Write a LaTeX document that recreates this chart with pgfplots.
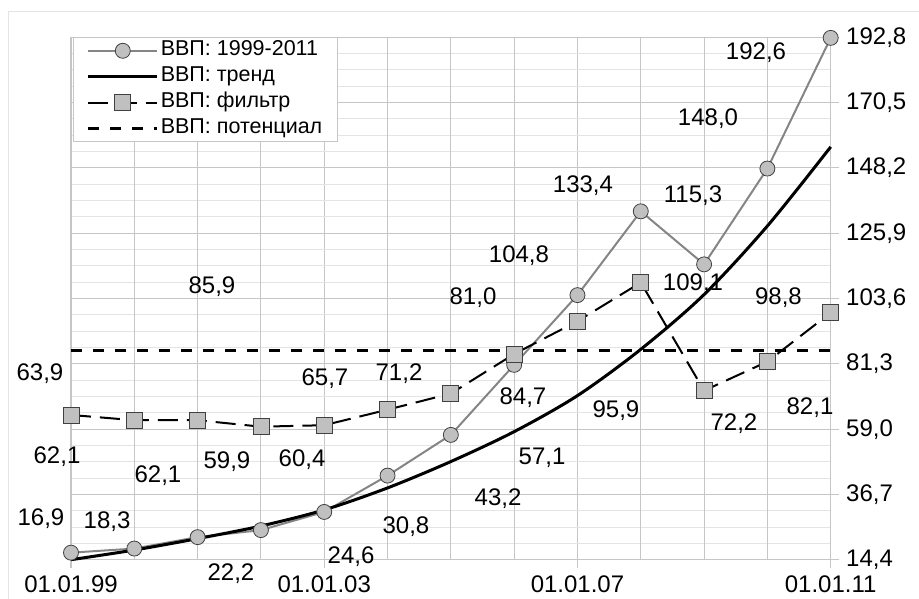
\documentclass[border=0pt]{standalone}
\usepackage{pgfplots}
\pgfplotsset{compat=1.18}
\usepackage{fontspec}
\setmainfont{Liberation Sans}
\definecolor{gridmaj}{HTML}{C6C6C6}
\definecolor{gridmin}{HTML}{E4E4E4}
\definecolor{mfill}{HTML}{C0C0C0}
\definecolor{sline}{HTML}{858585}

\pgfplotstableread{
x  gdp    trend  filt
0  16.9   14.5   63.9
1  18.3   17.8   62.1
2  22.2   21.7   62.1
3  24.6   26.0   59.9
4  30.8   31.5   60.4
5  43.2   39.0   65.7
6  57.1   48.0   71.2
7  81.0   58.2   84.7
8  104.8  70.5   95.9
9  133.4  86.3   109.1
10 115.3  105.0  72.2
11 148.0  128.4  82.1
12 192.6  155.4  98.8
}\gdp

\begin{document}
\begin{tikzpicture}[x=1pt,y=1pt,font=\fontsize{24}{28}\selectfont]
\useasboundingbox (0,0) rectangle (919,599);
\draw[gridmin, line width=1pt] (8,0) -- (8,587) -- (919,587);
\begin{axis}[
  at={(71pt,39pt)}, anchor=south west,
  scale only axis, width=759.7pt, height=522.7pt,
  xmin=0, xmax=12, ymin=14.4, ymax=192.8,
  clip=false,
  xtick={0,4,8,12},
  xticklabels={01.01.99,01.01.03,01.01.07,01.01.11},
  extra x ticks={1,2,3,5,6,7,9,10,11},
  extra x tick labels={},
  extra x tick style={major tick length=0pt},
  ytick={14.4,36.7,59.0,81.3,103.6,125.9,148.2,170.5,192.8},
  minor y tick num=3,
  xtick pos=lower, ytick pos=upper,
  yticklabel pos=right,
  tick align=outside,
  major tick length=8pt, minor tick length=0pt,
  tick style={gridmaj, line width=1pt},
  axis line style={gridmaj, line width=1pt},
  grid=both,
  major grid style={gridmaj, line width=1pt},
  minor grid style={gridmin, line width=1pt},
  y tick label style={xshift=4pt, /pgf/number format/.cd, fixed, fixed zerofill,
    precision=1, use comma, assume math mode=true},
  x tick label style={yshift=-4pt},
  legend style={at={(0.003,1)}, anchor=north west, draw=gridmaj,
    line width=1pt, fill=white, inner xsep=13pt, inner ysep=1pt,
    font=\fontsize{21.5}{25}\selectfont,
    nodes={inner sep=2pt, text height=15pt, text depth=5pt},
    row sep=2pt, cells={anchor=west}},
  legend image code/.code={\draw[mark repeat=2,mark phase=2,#1]
    plot coordinates {(0pt,0pt)(34.5pt,0pt)(69pt,0pt)};},
]
\addplot[sline, line width=2pt, mark=*, mark size=7.5pt,
  mark options={fill=mfill, draw=black!75, line width=0.8pt}]
  table[x=x, y=gdp] {\gdp};
\addlegendentry{ВВП: 1999-2011}
\addplot[black, line width=3pt, smooth] table[x=x, y=trend] {\gdp};
\addlegendentry{ВВП: тренд}
\addplot[black, line width=2pt, dash pattern=on 20pt off 9pt,
  mark=square*, mark size=8pt,
  mark options={solid, fill=mfill, draw=black!75, line width=0.8pt}]
  table[x=x, y=filt] {\gdp};
\addlegendentry{ВВП: фильтр}
\addplot[black, line width=3pt, dash pattern=on 11pt off 11pt]
  coordinates {(0,85.9) (12,85.9)};
\addlegendentry{ВВП: потенциал}

\node at (axis cs:2.227,107.6) {85,9};
\node at (axis cs:-0.490,77.9) {63,9};
\node at (axis cs:-0.221,49.6) {62,1};
\node at (axis cs:1.374,43.1) {62,1};
\node at (axis cs:2.464,47.8) {59,9};
\node at (axis cs:3.649,48.5) {60,4};
\node at (axis cs:4.012,76.2) {65,7};
\node at (axis cs:5.181,77.9) {71,2};
\node at (axis cs:-0.474,28.4) {16,9};
\node at (axis cs:0.569,27.4) {18,3};
\node at (axis cs:2.527,9.6) {22,2};
\node at (axis cs:4.423,15.4) {24,6};
\node at (axis cs:5.291,25.7) {30,8};
\node at (axis cs:6.745,35.2) {43,2};
\node at (axis cs:7.440,49.2) {57,1};
\node at (axis cs:7.139,69.7) {84,7};
\node at (axis cs:8.608,65.3) {95,9};
\node at (axis cs:10.472,60.8) {72,2};
\node at (axis cs:11.673,66.3) {82,1};
\node at (axis cs:6.350,103.8) {81,0};
\node at (axis cs:7.076,118.2) {104,8};
\node at (axis cs:8.087,142.0) {133,4};
\node at (axis cs:9.825,138.6) {115,3};
\node at (axis cs:9.825,108.6) {109,1};
\node at (axis cs:11.175,103.8) {98,8};
\node at (axis cs:10.062,164.9) {148,0};
\node at (axis cs:10.820,187.4) {192,6};
\end{axis}
\end{tikzpicture}
\end{document}
